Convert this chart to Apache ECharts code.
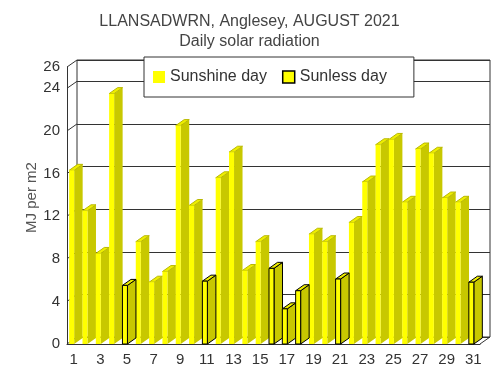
<!DOCTYPE html>
<html>
<head>
<meta charset="utf-8">
<script src="https://cdn.jsdelivr.net/npm/echarts@6/dist/echarts.min.js"></script>
<style>
html, body { margin: 0; padding: 0; background: #fff; }
#chart { width: 499px; height: 378px; }
</style>
</head>
<body>
<div id="chart"></div>
<script>
var days = ['1', '2', '3', '4', '5', '6', '7', '8', '9', '10', '11', '12', '13', '14', '15', '16',
    '17', '18', '19', '20', '21', '22', '23', '24', '25', '26', '27', '28', '29', '30', '31'];
// MJ per m2, null where the day belongs to the other series
var sunshine = [16.3, 12.5, 8.5, 23.5, null, 9.6, 5.8, 6.8, 20.5, 13.0, null, 15.6, 18.0, 6.9, 9.6, null,
    null, null, 10.3, 9.6, null, 11.4, 15.2, 18.7, 19.2, 13.3, 18.3, 17.9, 13.7, 13.3, null];
var sunless = [null, null, null, null, 5.5, null, null, null, null, null, 5.9, null, null, null, null, 7.1,
    3.3, 5.0, null, null, 6.1, null, null, null, null, null, null, null, null, null, 5.8];
var yTicks = [0, 4, 8, 12, 16, 20, 24, 26];

var FONT = '"Liberation Sans", Arial, sans-serif';
// depth of the back wall and of each bar
var DX = 10, DY = -7;
var BAR_W = 5, BAR_DX = 8.5, BAR_DY = -6;

function bar3d(outline) {
    return function (params, api) {
        var v = api.value(1);
        if (v == null || isNaN(v)) return;
        var b = api.coord([api.value(0), 0]);
        var t = api.coord([api.value(0), v]);
        var x1 = b[0] + 0.5, x0 = x1 - BAR_W;
        var stroke = outline ? '#000' : null;
        return {
            type: 'group',
            children: [{
                type: 'polygon',
                shape: { points: [[x1, b[1]], [x1, t[1]], [x1 + BAR_DX, t[1] + BAR_DY], [x1 + BAR_DX, b[1] + BAR_DY]] },
                style: { fill: '#c8c800', stroke: stroke, lineWidth: 1 }
            }, {
                type: 'polygon',
                shape: { points: [[x0, t[1]], [x1, t[1]], [x1 + BAR_DX, t[1] + BAR_DY], [x0 + BAR_DX, t[1] + BAR_DY]] },
                style: { fill: '#eeee00', stroke: stroke || '#b8b800', lineWidth: 1 }
            }, {
                type: 'rect',
                shape: { x: x0, y: t[1], width: BAR_W, height: b[1] - t[1] },
                style: { fill: '#ffff00', stroke: stroke, lineWidth: 1 }
            }]
        };
    };
}

var chart = echarts.init(document.getElementById('chart'));

var wallData = yTicks.map(function (v) { return [0, v, 0]; });
wallData.push([0, 0, 1]);

chart.setOption({
    animation: false,
    textStyle: { fontFamily: FONT },
    title: {
        text: 'LLANSADWRN, Anglesey, AUGUST 2021',
        subtext: 'Daily solar radiation',
        left: 'center',
        top: 9,
        itemGap: 4,
        textStyle: { fontFamily: FONT, fontSize: 16, fontWeight: 'normal', color: '#444' },
        subtextStyle: { fontFamily: FONT, fontSize: 16, color: '#444' }
    },
    legend: {
        left: 144,
        top: 57,
        padding: [12, 27, 12, 9],
        itemGap: 15,
        itemWidth: 12,
        itemHeight: 12,
        borderColor: '#333',
        borderWidth: 1,
        backgroundColor: '#fff',
        textStyle: { fontFamily: FONT, fontSize: 16, color: '#333' },
        data: [
            { name: 'Sunshine day', icon: 'rect', itemStyle: { color: '#ffff00', borderWidth: 0 } },
            { name: 'Sunless day', icon: 'rect', itemStyle: { color: '#ffff00', borderColor: '#000', borderWidth: 1.5 } }
        ]
    },
    grid: [
        // front plane
        { left: 67, right: 19, top: 67, bottom: 34 },
        // back wall
        { left: 77, right: 9, top: 60, bottom: 41, show: true, borderColor: '#333', borderWidth: 1 }
    ],
    xAxis: [{
        type: 'category',
        gridIndex: 0,
        data: days,
        axisLine: { lineStyle: { color: '#333' } },
        axisTick: { show: false },
        axisLabel: { interval: 1, fontSize: 15, color: '#333', margin: 8 }
    }, {
        type: 'category',
        gridIndex: 1,
        data: days,
        show: false
    }],
    yAxis: [{
        type: 'value',
        gridIndex: 0,
        min: 0,
        max: 26,
        interval: 4,
        name: 'MJ per m2',
        nameLocation: 'middle',
        nameGap: 28,
        nameMoveOverlap: false,
        nameTextStyle: { fontFamily: FONT, fontSize: 15, color: '#555', padding: [0, 0, 0, 16] },
        axisLine: { show: true, lineStyle: { color: '#333' } },
        axisTick: { show: false },
        axisLabel: { fontSize: 15, color: '#333', margin: 7 },
        splitLine: { show: false }
    }, {
        type: 'value',
        gridIndex: 1,
        min: 0,
        max: 26,
        interval: 4,
        axisLine: { show: false },
        axisTick: { show: false },
        axisLabel: { show: false },
        splitLine: { show: true, lineStyle: { color: '#333', width: 1 } }
    }],
    series: [{
        name: 'wall',
        type: 'custom',
        xAxisIndex: 0,
        yAxisIndex: 0,
        silent: true,
        renderItem: function (params, api) {
            var cs = params.coordSys;
            var y = api.coord([0, api.value(1)])[1];
            var x = api.value(2) ? cs.x + cs.width : cs.x;
            return {
                type: 'line',
                shape: { x1: x, y1: y, x2: x + DX, y2: y + DY },
                style: { stroke: '#333', lineWidth: 1 }
            };
        },
        data: wallData
    }, {
        name: 'Sunshine day',
        type: 'custom',
        xAxisIndex: 0,
        yAxisIndex: 0,
        renderItem: bar3d(false),
        itemStyle: { color: '#ffff00' },
        data: sunshine.map(function (v, i) { return [i, v]; })
    }, {
        name: 'Sunless day',
        type: 'custom',
        xAxisIndex: 0,
        yAxisIndex: 0,
        renderItem: bar3d(true),
        itemStyle: { color: '#ffff00' },
        data: sunless.map(function (v, i) { return [i, v]; })
    }]
});
</script>
</body>
</html>
